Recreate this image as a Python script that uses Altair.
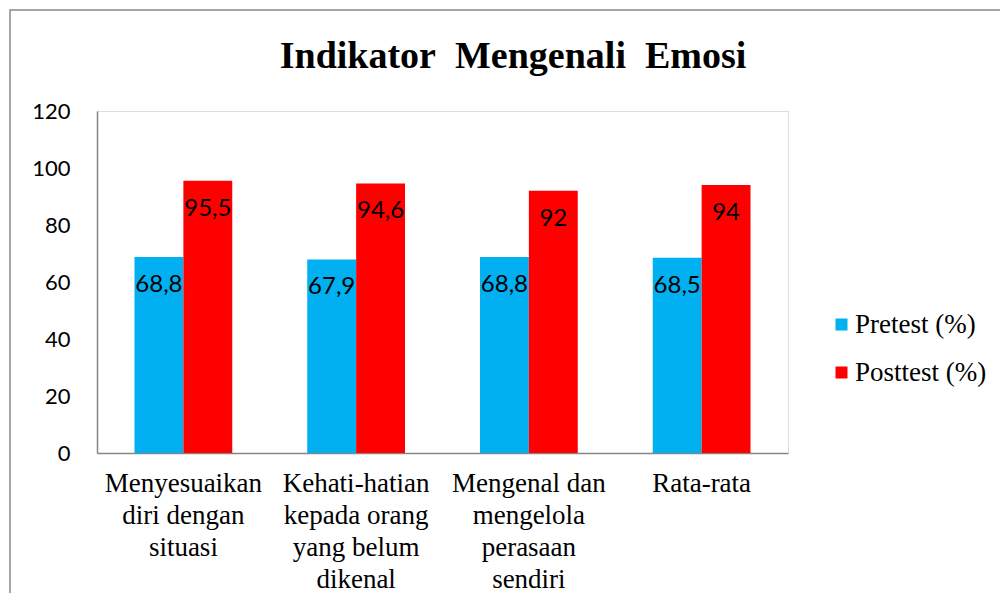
import altair as alt
import pandas as pd

categories = [
    "Menyesuaikan|diri dengan|situasi",
    "Kehati-hatian|kepada orang|yang belum|dikenal",
    "Mengenal dan|mengelola|perasaan|sendiri",
    "Rata-rata",
]
series = ["Pretest (%)", "Posttest (%)"]
pretest = [68.8, 67.9, 68.8, 68.5]
posttest = [95.5, 94.6, 92, 94]
pretest_labels = ["68,8", "67,9", "68,8", "68,5"]
posttest_labels = ["95,5", "94,6", "92", "94"]
colors = ["#00B0F0", "#FF0000"]
y_ticks = [0, 20, 40, 60, 80, 100, 120]
title_text = "Indikator\u00a0 Mengenali\u00a0 Emosi"

rows = []
for i, c in enumerate(categories):
    rows.append(dict(kategori=c, seri=series[0], nilai=pretest[i], label=pretest_labels[i]))
    rows.append(dict(kategori=c, seri=series[1], nilai=posttest[i], label=posttest_labels[i]))
df = pd.DataFrame(rows)

pad = "\u2002" * 5
label_expr = f"indexof(datum.label, 'Rata') == 0 ? '{pad}' + datum.label : split(datum.label, '|')"

x = alt.X(
    "kategori:N",
    sort=categories,
    scale=alt.Scale(paddingInner=0.434, paddingOuter=0.217),
    axis=alt.Axis(
        title=None,
        labelAngle=0,
        labelExpr=label_expr,
        labelFont="Liberation Serif",
        labelFontSize=27,
        labelColor="black",
        labelLineHeight=32,
        labelPadding=17,
        labelOverlap=False,
        labelBound=False,
        labelLimit=400,
        ticks=False,
        domainColor="#868686",
        domainWidth=1.5,
        grid=False,
    ),
)
y = alt.Y(
    "nilai:Q",
    scale=alt.Scale(domain=[0, 120], nice=False),
    axis=alt.Axis(
        title=None,
        values=y_ticks,
        labelFont="Lato",
        labelFontSize=22,
        labelColor="black",
        labelPadding=27,
        ticks=False,
        domainColor="#868686",
        domainWidth=1.5,
        grid=False,
    ),
)
xoff = alt.XOffset("seri:N", sort=series, scale=alt.Scale(paddingInner=0, paddingOuter=0))
color = alt.Color(
    "seri:N",
    sort=series,
    scale=alt.Scale(domain=series, range=colors),
    legend=alt.Legend(
        title=None,
        orient="none",
        legendX=731,
        legendY=200,
        symbolType="square",
        symbolSize=144,
        symbolStrokeWidth=0,
        labelFont="Liberation Serif",
        labelFontSize=27,
        labelColor="black",
        labelOffset=0,
        rowPadding=20,
        padding=0,
    ),
)

base = alt.Chart(df)
bars = base.mark_bar().encode(x=x, xOffset=xoff, y=y, color=color)
texts = base.mark_text(
    font="Lato", fontSize=24, color="black", baseline="middle", align="center", dy=28
).encode(x=x, xOffset=xoff, y=y, text="label:N")

frame = alt.Chart(pd.DataFrame({"f": [0]})).mark_rect(
    fillOpacity=0, stroke="#8a8a8a", strokeWidth=1.5, clip=False
).encode(
    x=alt.value(-87), x2=alt.value(1100), y=alt.value(-101), y2=alt.value(700)
)

title = alt.Chart(pd.DataFrame({"t": [title_text]})).mark_text(
    font="Liberation Serif", fontSize=38, fontWeight="bold", color="black",
    align="center", baseline="alphabetic",
).encode(x=alt.value(416), y=alt.value(-43), text="t:N")

chart = (
    alt.layer(frame, bars, texts, title)
    .properties(
        width=691,
        height=342,
        autosize=alt.AutoSizeParams(type="none"),
        padding={"left": 89, "top": 103, "right": 212, "bottom": 140},
    )
    .configure_view(stroke=None)
    .configure(background="white")
)

chart.save("out.html", embed_options={"renderer": "svg", "actions": False})
